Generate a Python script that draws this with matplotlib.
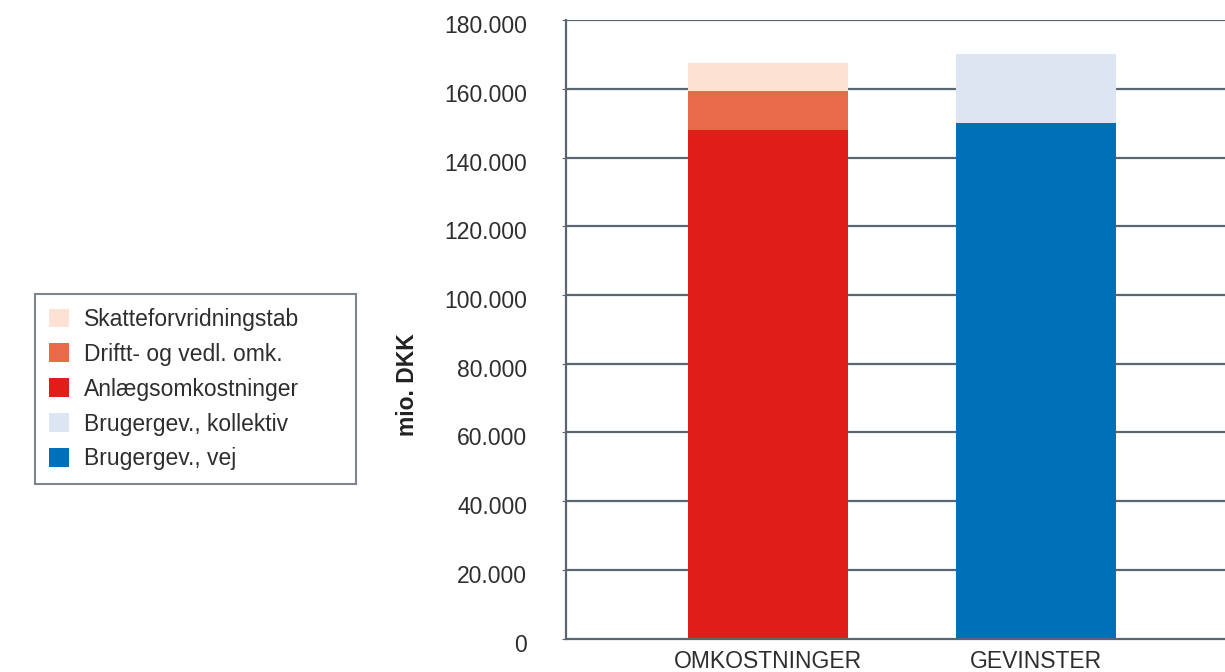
import matplotlib.pyplot as plt
from matplotlib.patches import Patch
from matplotlib.transforms import ScaledTranslation

plt.rcParams['font.family'] = ['Liberation Sans', 'DejaVu Sans']

# data (mio. DKK)
kategorier = ["OMKOSTNINGER", "GEVINSTER"]
anlaeg = [148000, 0]
drift = [11500, 0]
skat = [8000, 0]
vej = [0, 150000]
kollektiv = [0, 20000]
yticks = [0, 20000, 40000, 60000, 80000, 100000, 120000, 140000, 160000, 180000]

labels = ["Skatteforvridningstab", "Driftt- og vedl. omk.", "Anlægsomkostninger",
          "Brugergev., kollektiv", "Brugergev., vej"]
farver = ["#fde2d4", "#e86a48", "#e01e19", "#dde4f2", "#0070b8"]

tekst = "#2e2e2e"
linje = "#5b6673"

fig = plt.figure(figsize=(12.25, 6.72), dpi=100)
ax = fig.add_axes([0.462, 0.0497, 0.538, 0.9204])

x = [0, 1]
b = 0.6
ax.bar(x, anlaeg, b, color=farver[2], zorder=2)
bund = [a for a in anlaeg]
ax.bar(x, drift, b, bottom=bund, color=farver[1], zorder=2)
bund = [a + d for a, d in zip(anlaeg, drift)]
ax.bar(x, skat, b, bottom=bund, color=farver[0], zorder=2)
ax.bar(x, vej, b, color=farver[4], zorder=2)
ax.bar(x, kollektiv, b, bottom=vej, color=farver[3], zorder=2)

ax.set_xlim(-0.754, 1.705)
ax.set_ylim(0, 180000)
ax.set_yticks(yticks)
ax.set_yticklabels([f"{v:,}".replace(",", ".") for v in yticks])
ax.set_xticks(x)
ax.set_xticklabels(kategorier)

for v in yticks[1:]:
    ax.axhline(v, color=linje, lw=1.6, zorder=1)

for s in ["top", "right"]:
    ax.spines[s].set_visible(False)
ax.spines["left"].set_color(linje)
ax.spines["left"].set_linewidth(1.6)
ax.spines["bottom"].set_color(linje)
ax.spines["bottom"].set_linewidth(1.6)

ax.tick_params(axis="y", length=3, color=linje, pad=25, labelsize=16.5, labelcolor=tekst)
ax.tick_params(axis="x", length=0, pad=8, labelsize=16.5, labelcolor=tekst)
for lab in ax.get_yticklabels():
    lab.set_transform(lab.get_transform() + ScaledTranslation(0, -0.04, fig.dpi_scale_trans))

fig.text(408 / 1225, 1 - 385 / 672, "mio. DKK", rotation=90, ha="center", va="center",
         fontsize=16.5, fontweight="bold", color="#222222")

handles = [Patch(facecolor=c, edgecolor="none") for c in farver]
leg = fig.legend(handles, labels, loc="upper left",
                 bbox_to_anchor=(35 / 1225, 1 - 477 / 672, 321 / 1225, 183 / 672), mode="expand",
                 fontsize=16.5, frameon=True, fancybox=False, handlelength=0.87, handleheight=0.87,
                 handletextpad=0.65, labelspacing=0.52, borderpad=0.6, borderaxespad=0)
leg.get_frame().set_edgecolor(linje)
leg.get_frame().set_linewidth(1.5)
for t in leg.get_texts():
    t.set_color(tekst)

fig.savefig("out.png", dpi=100)
